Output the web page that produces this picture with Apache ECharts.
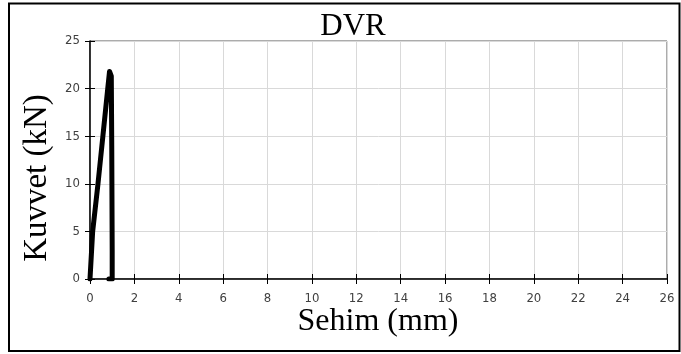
<!DOCTYPE html>
<html><head><meta charset="utf-8">
<script src="https://cdn.jsdelivr.net/npm/echarts@6/dist/echarts.min.js"></script>
<style>html,body{margin:0;padding:0;background:#fff}#c{width:681px;height:354px}</style>
</head><body><div id="c"></div>
<script>
const titleText = "DVR";
const xTitle = "Sehim (mm)";
const yTitle = "Kuvvet (kN)";
const deflection = [0, 0.12, 0.36, 0.58, 0.8, 0.88, 0.92, 0.96, 0.98, 1.0, 1.0, 0.85];
const force =      [0, 5, 10, 15, 20, 21.8, 22, 21.3, 14, 3, 0, 0];
const xMin = 0, xMax = 26, xStep = 2;
const yMin = 0, yMax = 25, yStep = 5;

const chart = echarts.init(document.getElementById('c'), null, {renderer: 'canvas'});
const pts = deflection.map((d, i) => [d, force[i]]);
const labelFont = {fontFamily: 'DejaVu Sans Condensed', fontSize: 13, color: '#404040'};
chart.setOption({
  animation: false,
  backgroundColor: '#fff',
  grid: {left: 90, right: 14, top: 41, bottom: 75, show: true, borderColor: '#595959', borderWidth: 1},
  xAxis: [{
    type: 'value', min: xMin, max: xMax, interval: xStep,
    axisLine: {show: true, onZero: false, lineStyle: {color: '#000', width: 1.5}},
    axisTick: {show: true, length: 5, lineStyle: {color: '#000'}},
    axisLabel: Object.assign({margin: 13}, labelFont),
    splitLine: {show: true, lineStyle: {color: '#d9d9d9', width: 1}}
  }, {
    type: 'value', min: xMin, max: xMax, interval: xStep, position: 'bottom',
    axisLine: {show: false},
    axisTick: {show: true, inside: true, length: 5, lineStyle: {color: '#000'}},
    axisLabel: {show: false}, splitLine: {show: false}
  }],
  yAxis: [{
    type: 'value', min: yMin, max: yMax, interval: yStep,
    axisLine: {show: true, onZero: false, lineStyle: {color: '#000', width: 1.5}},
    axisTick: {show: true, length: 5, lineStyle: {color: '#000'}},
    axisLabel: Object.assign({margin: 10}, labelFont),
    splitLine: {show: true, lineStyle: {color: '#d9d9d9', width: 1}}
  }, {
    type: 'value', min: yMin, max: yMax, interval: yStep, position: 'left',
    axisLine: {show: false},
    axisTick: {show: true, inside: true, length: 5, lineStyle: {color: '#000'}},
    axisLabel: {show: false}, splitLine: {show: false}
  }],
  series: [{
    type: 'line', data: pts, showSymbol: false, symbol: 'none',
    lineStyle: {color: '#000', width: 5, join: 'round', cap: 'round'}
  }],
  graphic: [
    {type: 'rect', shape: {x: 9, y: 3.5, width: 670.5, height: 347.5},
     style: {fill: 'none', stroke: '#000', lineWidth: 2}, silent: true, z: 100},
    {type: 'text', style: {text: titleText, font: '31px "Liberation Serif"', fill: '#000',
      x: 353, y: 27, textAlign: 'center', textVerticalAlign: 'middle'}, z: 100},
    {type: 'text', style: {text: xTitle, font: '32px "Liberation Serif"', fill: '#000',
      x: 378, y: 322, textAlign: 'center', textVerticalAlign: 'middle'}, z: 100},
    {type: 'text', x: 37, y: 178, rotation: Math.PI / 2,
     style: {text: yTitle, font: '33px "Liberation Serif"', fill: '#000',
      x: 0, y: 0, textAlign: 'center', textVerticalAlign: 'middle'}, z: 100}
  ]
});
</script></body></html>
